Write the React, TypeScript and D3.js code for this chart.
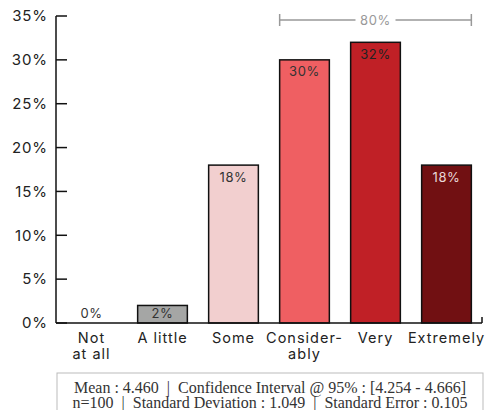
import React from "react";
import * as d3 from "d3";

const categories = ["Not\nat all", "A little", "Some", "Consider-\nably", "Very", "Extremely"];
const values = [0, 2, 18, 30, 32, 18];
const barColors = ["#d9d9d9", "#a5a6a5", "#f2cfcf", "#ef5f62", "#c02026", "#711012"];
const labelColors = ["#333", "#333", "#333", "#333", "#222", "#e8d8d8"];
const yTicks = [0, 5, 10, 15, 20, 25, 30, 35];
const statsLines = [
  "Mean : 4.460  |  Confidence Interval @ 95% : [4.254 - 4.666]",
  "n=100  |  Standard Deviation : 1.049  |  Standard Error : 0.105",
];
const bracketLabel = "80%";

export default function App() {
  const width = 495;
  const height = 410;
  const margin = { top: 16, left: 56, right: 13, bottom: 87 };
  const font = "Inter, 'Noto Sans', sans-serif";

  const x = d3.scaleBand<string>()
    .domain(categories)
    .range([margin.left, width - margin.right])
    .paddingInner(0.3)
    .paddingOuter(0.15);

  const y = d3.scaleLinear()
    .domain([0, 35])
    .range([height - margin.bottom, margin.top]);

  const base = y(0);
  const bx0 = x(categories[3])!;
  const bx1 = x(categories[5])! + x.bandwidth();
  const by = 20;

  return (
    <svg width={width} height={height} style={{ position: "absolute", left: 0, top: 0 }}>
      <rect width={width} height={height} fill="#fff" />
      {/* y axis */}
      <line x1={margin.left} x2={margin.left} y1={y(35)} y2={base} stroke="#111" strokeWidth={1.5} />
      {yTicks.map((t) => (
        <g key={t}>
          <line x1={margin.left} x2={margin.left + 11} y1={y(t)} y2={y(t)} stroke="#111" strokeWidth={1.5} />
          <text x={48} y={y(t)} dy="0.35em" textAnchor="end" fontFamily={font} fontSize={15}
            letterSpacing={0.9} fill="#222">
            {t}%
          </text>
        </g>
      ))}
      {/* bars */}
      {categories.map((c, i) => {
        const top = y(values[i]);
        const ly = Math.min(top + 12, base - 10);
        return (
          <g key={c}>
            {values[i] > 0 && (
              <rect x={x(c)} y={top} width={x.bandwidth()} height={base - top}
                fill={barColors[i]} stroke="#111" strokeWidth={1.5} />
            )}
            <text x={x(c)! + x.bandwidth() / 2} y={ly} dy="0.35em" textAnchor="middle"
              fontFamily={font} fontSize={13} letterSpacing={0.6} fill={labelColors[i]}>
              {values[i]}%
            </text>
            {c.split("\n").map((line, j) => (
              <text key={j} x={x(c)! + x.bandwidth() / 2} y={base + 15 + j * 16} dy="0.35em"
                textAnchor="middle" fontFamily={font} fontSize={14.5} letterSpacing={1}
                fill="#222">
                {line}
              </text>
            ))}
          </g>
        );
      })}
      {/* x axis */}
      <line x1={margin.left} x2={width - margin.right} y1={base} y2={base} stroke="#111" strokeWidth={1.5} />
      <line x1={width - margin.right} x2={width - margin.right} y1={base} y2={base - 6} stroke="#111" strokeWidth={1.5} />
      {/* bracket */}
      <g stroke="#999" strokeWidth={1.5}>
        <line x1={bx0} x2={bx1} y1={by} y2={by} />
        <line x1={bx0} x2={bx0} y1={by - 6} y2={by + 6} />
        <line x1={bx1} x2={bx1} y1={by - 6} y2={by + 6} />
      </g>
      <rect x={(bx0 + bx1) / 2 - 20} y={by - 8} width={40} height={16} fill="#fff" />
      <text x={(bx0 + bx1) / 2} y={by} dy="0.35em" textAnchor="middle" fontFamily={font} fontSize={13}
        letterSpacing={0.6} fill="#999">
        {bracketLabel}
      </text>
      {/* stats box */}
      <rect x={57} y={373} width={426} height={45} fill="#fff" stroke="#bbb" strokeWidth={1} />
      {statsLines.map((s, i) => (
        <text key={i} x={270} y={387 + i * 15.5} dy="0.35em" textAnchor="middle"
          fontFamily="'Liberation Serif', 'Times New Roman', serif" fontSize={16} fill="#333"
          style={{ whiteSpace: "pre" }}>
          {s}
        </text>
      ))}
    </svg>
  );
}
